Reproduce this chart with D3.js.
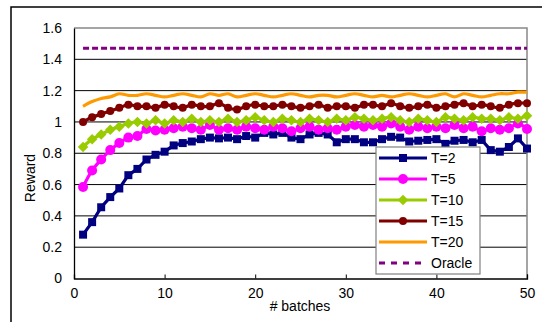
<!DOCTYPE html>
<html><head><meta charset="utf-8">
<script src="https://cdn.jsdelivr.net/npm/d3@7"></script>
<style>body{margin:0;background:#fff}svg{display:block}text{font-family:"Liberation Sans",Arial,sans-serif;fill:#000}</style>
</head><body><svg id="c" width="542" height="322"></svg>
<script>
const batches = d3.range(1, 51);
const seriesNames = ["T=2", "T=5", "T=10", "T=15", "T=20"];
const t2 = [0.28,0.36,0.455,0.52,0.575,0.66,0.70,0.76,0.79,0.81,0.85,0.865,0.875,0.89,0.90,0.895,0.90,0.89,0.91,0.90,0.93,0.92,0.93,0.90,0.89,0.92,0.93,0.92,0.87,0.89,0.89,0.87,0.87,0.89,0.905,0.90,0.875,0.88,0.885,0.89,0.86,0.88,0.885,0.87,0.885,0.82,0.81,0.84,0.895,0.83];
const t5 = [0.585,0.69,0.76,0.82,0.865,0.90,0.91,0.955,0.945,0.95,0.96,0.97,0.96,0.95,0.98,0.95,0.96,0.95,0.97,0.96,0.95,0.97,0.96,0.94,0.96,0.97,0.95,0.96,0.95,0.97,0.98,0.97,0.98,0.97,0.99,0.97,0.95,0.97,0.96,0.97,0.96,0.98,0.96,0.97,0.94,0.96,0.95,0.96,0.99,0.955];
const t10 = [0.84,0.89,0.92,0.95,0.97,0.99,1.00,0.99,1.01,0.99,1.01,1.00,1.02,1.00,1.01,1.00,1.02,1.00,1.01,1.03,1.01,1.00,1.02,1.01,1.00,1.02,1.01,1.00,1.02,1.01,1.03,1.02,1.01,1.02,1.03,1.01,1.00,1.02,1.01,1.00,1.03,1.02,1.01,1.03,1.02,1.02,1.01,1.03,1.02,1.04];
const t15 = [1.00,1.03,1.05,1.07,1.09,1.11,1.10,1.10,1.09,1.11,1.10,1.09,1.11,1.10,1.10,1.12,1.09,1.08,1.10,1.11,1.10,1.10,1.11,1.10,1.09,1.10,1.11,1.09,1.10,1.10,1.09,1.11,1.11,1.10,1.12,1.10,1.09,1.10,1.11,1.09,1.10,1.11,1.12,1.10,1.11,1.10,1.09,1.11,1.12,1.12];
const t20 = [1.10,1.13,1.15,1.16,1.18,1.17,1.17,1.18,1.17,1.16,1.17,1.18,1.17,1.16,1.18,1.17,1.18,1.16,1.17,1.18,1.17,1.16,1.17,1.18,1.17,1.16,1.17,1.17,1.16,1.17,1.18,1.17,1.16,1.17,1.16,1.17,1.18,1.17,1.16,1.17,1.18,1.16,1.18,1.17,1.16,1.17,1.18,1.18,1.19,1.19];
const oracle = 1.47;
const xTicks = [0,10,20,30,40,50];
const yTicks = [0,0.2,0.4,0.6,0.8,1,1.2,1.4,1.6];

const svg = d3.select("#c");
const L = 74, R = 527, T = 28, B = 278.5;
const x = d3.scaleLinear().domain([0,50]).range([L,R]);
const y = d3.scaleLinear().domain([0,1.6]).range([B,T]);

// outer frame
svg.append("path").attr("d","M11,330 L11,7 L560,7").attr("fill","none").attr("stroke","#000").attr("stroke-width",1.5);

// gridlines
svg.append("g").selectAll("line").data(yTicks.slice(1,-1)).join("line")
  .attr("x1",L).attr("x2",R).attr("y1",d=>y(d)).attr("y2",d=>y(d))
  .attr("stroke","#000").attr("stroke-width",1);
// plot border top/right
svg.append("path").attr("d",`M${L},${T} L${R},${T} L${R},${B}`).attr("fill","none").attr("stroke","#888").attr("stroke-width",1.5);

// axes
const xAxis = d3.axisBottom(x).tickValues(xTicks).tickSize(-4).tickPadding(10).tickFormat(d3.format("d"));
const gx = svg.append("g").attr("transform",`translate(0,${B})`).call(xAxis);
gx.select(".domain").attr("stroke","#000").attr("stroke-width",1.3);
gx.selectAll(".tick line").attr("stroke","#000");
gx.selectAll("text").attr("font-size",14).attr("font-family","'Liberation Sans',Arial,sans-serif").attr("fill","#000");

const yAxis = d3.axisLeft(y).tickValues(yTicks).tickSize(0).tickPadding(12).tickFormat(d=>d===0?"0":(d===1?"1":d3.format(".1f")(d)));
const gy = svg.append("g").attr("transform",`translate(${L},0)`).call(yAxis);
gy.select(".domain").attr("stroke","#000").attr("stroke-width",1.3);
gy.selectAll("text").attr("font-size",14).attr("font-family","'Liberation Sans',Arial,sans-serif").attr("fill","#000");

svg.append("text").attr("x",300).attr("y",311).attr("text-anchor","middle").attr("font-size",14).text("# batches");
svg.append("text").attr("transform","translate(35,178) rotate(-90)").attr("text-anchor","middle").attr("font-size",14).text("Reward");

// series
const cfg = [
  {name:"T=2", vals:t2, color:"#000080", marker:"square", size:8},
  {name:"T=5", vals:t5, color:"#FF00FF", marker:"circle", size:10},
  {name:"T=10", vals:t10, color:"#99CC00", marker:"diamond", size:10.5},
  {name:"T=15", vals:t15, color:"#800000", marker:"circle", size:8}, 
  {name:"T=20", vals:t20, color:"#FF9900", marker:null, size:0}
];
const line = d3.line().x(d=>x(d.b)).y(d=>y(d.v)).curve(d3.curveCatmullRom.alpha(0.5));
function markerPath(type, s){
  const h=s/2;
  if(type==="square") return `M${-h},${-h}h${s}v${s}h${-s}Z`;
  if(type==="diamond") return `M0,${-h}L${h},0L0,${h}L${-h},0Z`;
  return d3.symbol(d3.symbolCircle, Math.PI*h*h)();
}
cfg.forEach(c=>{
  const pts = batches.map((b,i)=>({b, v:c.vals[i]}));
  const g = svg.append("g");
  g.append("path").datum(pts).attr("d", c.marker==="square"? d3.line().x(d=>x(d.b)).y(d=>y(d.v))(pts) : line(pts))
    .attr("fill","none").attr("stroke",c.color).attr("stroke-width",3.2).attr("stroke-linejoin","round");
  if(c.marker){
    g.selectAll("path.m").data(pts).join("path").attr("class","m")
      .attr("transform",d=>`translate(${x(d.b)},${y(d.v)})`)
      .attr("d",markerPath(c.marker,c.size)).attr("fill",c.color);
  }
});
// oracle
svg.append("line").attr("x1",x(1)).attr("x2",x(50)).attr("y1",y(oracle)).attr("y2",y(oracle))
  .attr("stroke","#800080").attr("stroke-width",3).attr("stroke-dasharray","6,3");

// legend
const lg = svg.append("g");
lg.append("rect").attr("x",376).attr("y",147).attr("width",104).attr("height",127)
  .attr("fill","#fff").attr("stroke","#808080").attr("stroke-width",1.2);
const legendItems = cfg.concat([{name:"Oracle", color:"#800080", dash:true}]);
legendItems.forEach((c,i)=>{
  const yy = 158 + i*21;
  lg.append("line").attr("x1",379).attr("x2",427).attr("y1",yy).attr("y2",yy)
    .attr("stroke",c.color).attr("stroke-width",3).attr("stroke-dasharray",c.dash?"6,6":null);
  if(c.marker){
    lg.append("path").attr("transform",`translate(403,${yy})`).attr("d",markerPath(c.marker,c.size)).attr("fill",c.color);
  }
  lg.append("text").attr("x",431).attr("y",yy+5).attr("font-size",14).text(c.name);
});
</script></body></html>
